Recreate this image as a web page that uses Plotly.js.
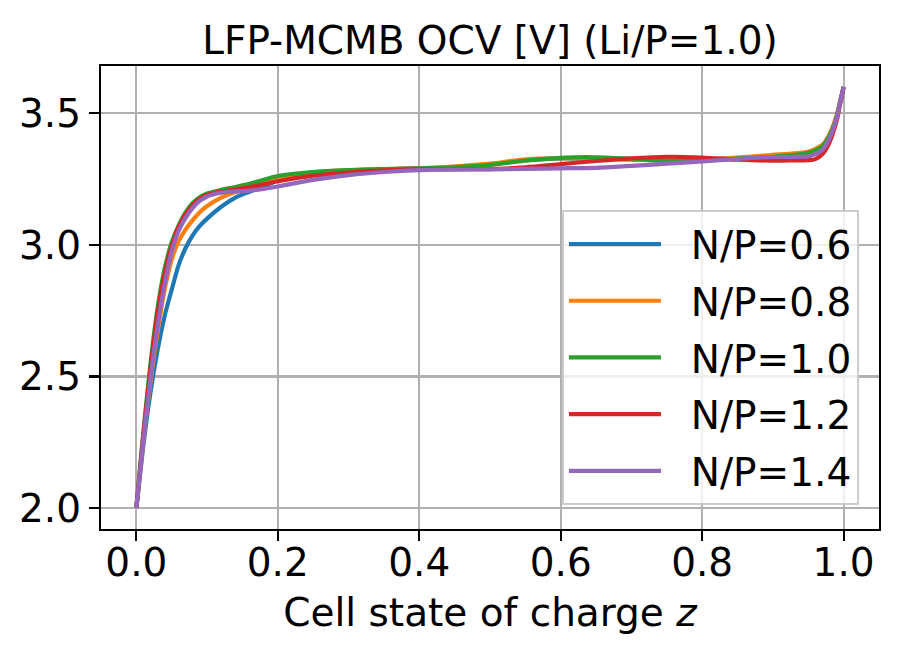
<!DOCTYPE html>
<html>
<head>
<meta charset="utf-8">
<script src="https://cdn.plot.ly/plotly-3.0.1.min.js"></script>
<style>
  html, body { margin: 0; padding: 0; background: #fff; }
  #plot { width: 899px; height: 657px; }
</style>
</head>
<body>
<div id="plot"></div>
<script>
// cell state of charge z (shared by every series)
var soc = [0, 0.005, 0.01, 0.02, 0.03, 0.04, 0.05, 0.06, 0.07, 0.08, 0.09, 0.1,
           0.12, 0.14, 0.16, 0.18, 0.2, 0.25, 0.3, 0.35, 0.4, 0.45, 0.5, 0.55,
           0.6, 0.65, 0.7, 0.75, 0.8, 0.85, 0.9, 0.93, 0.95, 0.96, 0.97, 0.98,
           0.99, 0.995, 1.0];

var seriesNames = ['N/P=0.6', 'N/P=0.8', 'N/P=1.0', 'N/P=1.2', 'N/P=1.4'];

// OCV [V]
var ocv06 = [2.0, 2.12, 2.24, 2.44, 2.6, 2.73, 2.83, 2.925, 2.99, 3.038, 3.073, 3.1,
             3.145, 3.18, 3.202, 3.222, 3.245, 3.272, 3.282, 3.287, 3.291, 3.297, 3.307, 3.322,
             3.329, 3.328, 3.325, 3.322, 3.323, 3.33, 3.34, 3.346, 3.352, 3.362, 3.378, 3.418,
             3.488, 3.545, 3.6];
var ocv08 = [2.0, 2.13, 2.26, 2.48, 2.67, 2.83, 2.945, 3.015, 3.06, 3.095, 3.125, 3.148,
             3.18, 3.201, 3.218, 3.236, 3.255, 3.276, 3.284, 3.288, 3.292, 3.298, 3.309, 3.325,
             3.33, 3.328, 3.324, 3.322, 3.324, 3.332, 3.342, 3.348, 3.354, 3.365, 3.38, 3.42,
             3.49, 3.545, 3.6];
var ocv10 = [2.0, 2.15, 2.29, 2.55, 2.76, 2.91, 3.01, 3.075, 3.125, 3.16, 3.182, 3.195,
             3.209, 3.22, 3.232, 3.248, 3.262, 3.277, 3.284, 3.288, 3.291, 3.295, 3.304, 3.32,
             3.331, 3.333, 3.327, 3.32, 3.319, 3.328, 3.335, 3.342, 3.35, 3.36, 3.375, 3.415,
             3.485, 3.54, 3.6];
var ocv12 = [2.0, 2.14, 2.28, 2.53, 2.74, 2.89, 2.995, 3.07, 3.118, 3.152, 3.176, 3.19,
             3.203, 3.211, 3.219, 3.23, 3.242, 3.263, 3.275, 3.283, 3.288, 3.288, 3.288, 3.295,
             3.307, 3.319, 3.329, 3.335, 3.332, 3.324, 3.32, 3.321, 3.322, 3.326, 3.345, 3.39,
             3.47, 3.535, 3.6];
var ocv14 = [2.0, 2.13, 2.26, 2.49, 2.69, 2.85, 2.975, 3.055, 3.105, 3.142, 3.168, 3.184,
             3.198, 3.203, 3.206, 3.213, 3.222, 3.247, 3.265, 3.277, 3.284, 3.286, 3.287, 3.289,
             3.291, 3.293, 3.3, 3.309, 3.317, 3.327, 3.334, 3.335, 3.336, 3.345, 3.362, 3.405,
             3.48, 3.54, 3.6];

var colors = ['#1f77b4', '#ff7f0e', '#2ca02c', '#d62728', '#9467bd'];
var allOcv = [ocv06, ocv08, ocv10, ocv12, ocv14];

var font = 'DejaVu Sans, Liberation Sans, sans-serif';

var data = [];
for (var i = 0; i < allOcv.length; ++i) {
    data.push({
        type: 'scatter',
        mode: 'lines',
        x: soc,
        y: allOcv[i],
        // two no-break spaces give the gap matplotlib leaves after the handle
        name: '\u00a0\u00a0' + seriesNames[i],
        legendgroup: 'g' + i,
        line: {color: colors[i], width: 4.2, shape: 'spline', smoothing: 0.8}
    });
}

var axisStyle = {
    showgrid: true,
    gridcolor: '#b0b0b0',
    gridwidth: 2.2,
    showline: true,
    mirror: true,
    linecolor: '#000',
    linewidth: 2.2,
    ticks: 'outside',
    ticklen: 10,
    tickwidth: 2.2,
    tickcolor: '#000',
    zeroline: false,
    tickformat: '.1f',
    tickfont: {family: font, size: 39, color: '#000'}
};

var layout = {
    width: 899,
    height: 657,
    margin: {l: 101, r: 20, t: 66, b: 128},
    paper_bgcolor: '#fff',
    plot_bgcolor: '#fff',
    font: {family: font, color: '#000'},
    title: {
        text: 'LFP-MCMB OCV [V] (Li/P=1.0)',
        font: {family: font, size: 39, color: '#000'},
        xref: 'paper', x: 0.5, xanchor: 'center',
        yref: 'paper', y: 1, yanchor: 'bottom',
        pad: {b: 12}
    },
    xaxis: Object.assign({}, axisStyle, {
        range: [-0.05, 1.05],
        tick0: 0, dtick: 0.2,
        ticklabelstandoff: -12,
        title: {text: 'Cell state of charge <i>z</i>', font: {family: font, size: 39, color: '#000'}, standoff: 15}
    }),
    yaxis: Object.assign({}, axisStyle, {
        range: [1.92, 3.68],
        tick0: 2.0, dtick: 0.5
    }),
    showlegend: true,
    legend: {
        x: 0.974, xanchor: 'right',
        y: 0.689, yanchor: 'top',
        bgcolor: 'rgba(255,255,255,0.8)',
        bordercolor: '#cccccc',
        borderwidth: 2.2,
        font: {family: font, size: 39, color: '#000'},
        traceorder: 'grouped',
        tracegroupgap: 3,
        itemwidth: 92
    }
};

Plotly.newPlot(document.getElementById('plot'), data, layout, {displayModeBar: false, staticPlot: true});
</script>
</body>
</html>
